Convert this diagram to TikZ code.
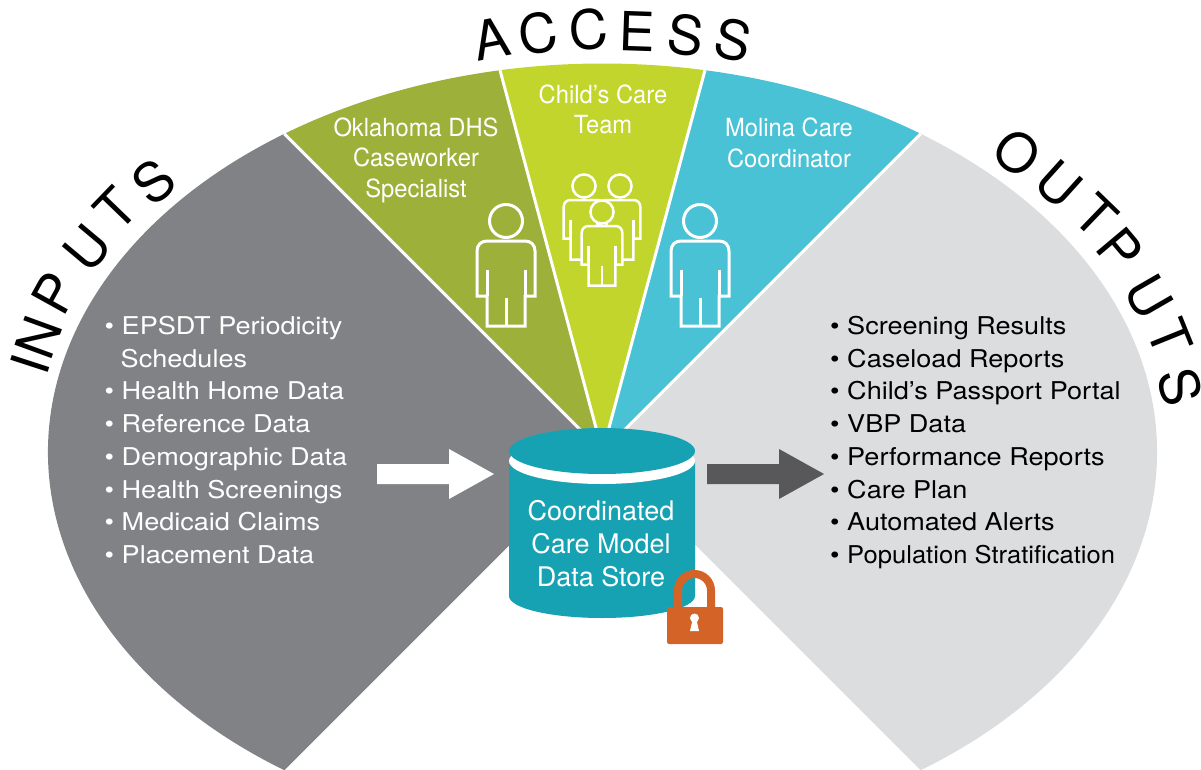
\documentclass[tikz,border=0pt]{standalone}
\usepackage{fontspec}
\setmainfont{TeX Gyre Heros}
\newfontfamily\narrowfont[FakeStretch=0.95]{TeX Gyre Heros}
\newfontfamily\widefont[FakeStretch=1.105]{TeX Gyre Heros}
\definecolor{cDark}{HTML}{808285}
\definecolor{cLight}{HTML}{DCDDDF}
\definecolor{cOlive}{HTML}{9DB03A}
\definecolor{cLime}{HTML}{C2D52D}
\definecolor{cSky}{HTML}{4AC2D5}
\definecolor{cTeal}{HTML}{17A2B3}
\definecolor{cLock}{HTML}{D46327}
\definecolor{cArrow}{HTML}{58585A}
\tikzset{
  bigletter/.style={font=\fontsize{54}{54}\selectfont,inner sep=0pt,text=black},
  wedgetext/.style={font=\narrowfont\fontsize{25}{30.5}\selectfont,text=white,align=center,inner sep=0pt},
  listtext/.style={font=\widefont\fontsize{24.5}{32.7}\selectfont,align=left,inner sep=0pt,anchor=north west},
  storetext/.style={font=\fontsize{27}{33}\selectfont,text=white,align=center,inner sep=0pt},
  divider/.style={draw=white,line width=3pt},
  personline/.style={draw=white,line join=miter}
}
\newcommand{\personfig}[5]{%
  \begin{scope}[shift={(#1,#2)},scale=#3]
    \path[personline,line width=#5,fill=#4] (-19,105) -- (-19,75) -- (-29,75) -- (-29,30)
      .. controls (-29,24) and (-25,20) .. (-19,20) -- (19,20)
      .. controls (25,20) and (29,24) .. (29,30) -- (29,75) -- (19,75) -- (19,105) -- cycle;
    \path[personline,line width=#5] (-19,75) -- (-19,49) (19,75) -- (19,49) (0,105) -- (0,77);
    \path[personline,line width=#5,fill=#4] (0,0) circle (16.5);
  \end{scope}}
\begin{document}
\begin{tikzpicture}[x=1pt,y=1pt,yscale=-1]
\useasboundingbox (0,0) rectangle (1201,770);
\coordinate (apex) at (602.5,452);
\coordinate (cTL) at (284.4,133.8);
\coordinate (cGY) at (500,70.2);
\coordinate (cYB) at (705,70.2);
\coordinate (cTR) at (920.6,133.8);
% wedges
\fill[cDark] (apex) -- (cTL) arc[start angle=235,end angle=125,x radius=554.5pt,y radius=388.5pt] -- cycle;
\fill[cLight] (apex) -- (cTR) arc[start angle=305,end angle=415,x radius=554.5pt,y radius=388.5pt] -- cycle;
\fill[cOlive] (apex) -- (cTL) arc[start angle=235,end angle=259.35,x radius=554.5pt,y radius=388.5pt] -- cycle;
\fill[cLime] (apex) -- (cGY) arc[start angle=259.35,end angle=280.65,x radius=554.5pt,y radius=388.5pt] -- cycle;
\fill[cSky] (apex) -- (cYB) arc[start angle=280.65,end angle=305,x radius=554.5pt,y radius=388.5pt] -- cycle;
\draw[divider] (apex) -- (cTL);
\draw[divider] (apex) -- (cGY);
\draw[divider] (apex) -- (cYB);
\draw[divider] (apex) -- (cTR);
% people
\personfig{506}{221}{1}{cOlive}{3pt}
\personfig{700}{221}{1}{cSky}{3pt}
\personfig{584}{186}{0.7}{cLime}{2.5pt}
\personfig{620}{186}{0.7}{cLime}{2.5pt}
\personfig{602}{212}{0.7}{cLime}{2.5pt}
% wedge labels
\node[wedgetext] (lblDHS) at (416,160) {Oklahoma DHS\\Caseworker\\Specialist};
\node[wedgetext] (lblTeam) at (603,109.5) {Child’s Care\\Team};
\node[wedgetext] (lblMolina) at (789,143) {Molina Care\\Coordinator};
% lists
\node[listtext,text=white] (listIn) at (104.5,316) {• EPSDT Periodicity\\\hspace{16pt}Schedules\\• Health Home Data\\• Reference Data\\• Demographic Data\\• Health Screenings\\• Medicaid Claims\\• Placement Data};
\node[listtext,text=black] (listOut) at (830,316) {• Screening Results\\• Caseload Reports\\• Child’s Passport Portal\\• VBP Data\\• Performance Reports\\• Care Plan\\• Automated Alerts\\• \scalebox{.945}[1]{Population Stratification}};
% arrows
\fill[white] (377,464) -- (449,464) -- (449,449) -- (494,474) -- (449,499) -- (449,484) -- (377,484) -- cycle;
\fill[cArrow] (707,464) -- (779,464) -- (779,449) -- (824,474) -- (779,499) -- (779,484) -- (707,484) -- cycle;
% data store
\fill[cTeal] (509,461) -- (509,596) arc[start angle=180,end angle=0,x radius=93pt,y radius=22pt] -- (695,461) -- cycle;
\fill[white] (602,461) ellipse[x radius=93pt,y radius=23pt];
\fill[cTeal] (602,451) ellipse[x radius=93pt,y radius=23pt];
\node[storetext] (lblStore) at (601,544) {Coordinated\\Care Model\\Data Store};
% lock
\draw[cLock,line width=8pt] (678,610) -- (678,590.5) arc[start angle=180,end angle=360,radius=16.5pt] -- (711,610);
\fill[cLock,rounded corners=2pt] (667,607) rectangle (723,644);
\fill[white] (694.5,618) circle (4.5);
\fill[white] (692.5,620) -- (690,631) -- (699,631) -- (696.5,620) -- cycle;
% curved titles
\node[bigletter,rotate=72] (i1) at (30,364) {I};
\node[bigletter,rotate=70] (i2) at (39,337) {N};
\node[bigletter,rotate=61] (i3) at (55,293) {P};
\node[bigletter,rotate=50] (i4) at (87,248) {U};
\node[bigletter,rotate=46] (i5) at (116,209) {T};
\node[bigletter,rotate=40] (i6) at (154,182) {S};
\node[bigletter,rotate=11] (a1) at (491,39) {A};
\node[bigletter,rotate=8] (a2) at (538,33) {C};
\node[bigletter,rotate=4] (a3) at (589,30) {C};
\node[bigletter,rotate=-2] (a4) at (637,31) {E};
\node[bigletter,rotate=-7] (a5) at (686,35) {S};
\node[bigletter,rotate=-12] (a6) at (733,40) {S};
\node[bigletter,rotate=-40] (o1) at (1017,153) {O};
\node[bigletter,rotate=-42] (o2) at (1059,184) {U};
\node[bigletter,rotate=-44] (o3) at (1096,216) {T};
\node[bigletter,rotate=-50] (o4) at (1120,250) {P};
\node[bigletter,rotate=-60] (o5) at (1149,297) {U};
\node[bigletter,rotate=-68] (o6) at (1170,337) {T};
\node[bigletter,rotate=-75] (o7) at (1180,387) {S};
\end{tikzpicture}
\end{document}
